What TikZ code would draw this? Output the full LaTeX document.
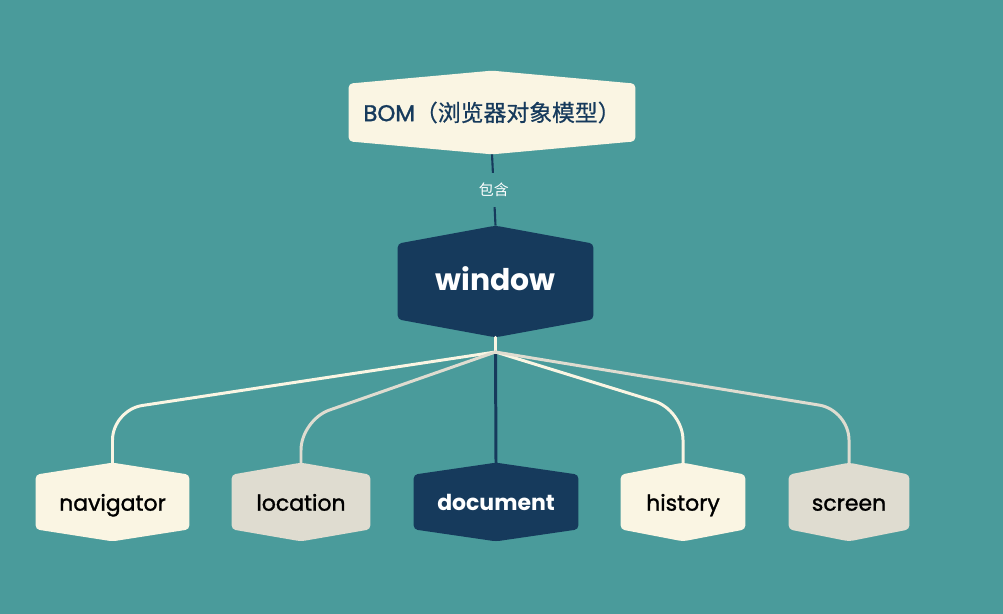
\documentclass[tikz,border=0pt]{standalone}
\usepackage{fontspec}
\setmainfont{Poppins}
\newfontfamily\medfont{Poppins}[FakeBold=1.3]
\newfontfamily\cjk{Noto Sans CJK SC}
\newfontfamily\cjkmed{Noto Sans CJK SC}[FakeBold=0.6]
\usetikzlibrary{backgrounds}

\definecolor{bgteal}{HTML}{4A9B9B}
\definecolor{navy}{HTML}{163A5C}
\definecolor{cream}{HTML}{FAF5E3}
\definecolor{sand}{HTML}{DFDCD0}

\begin{document}
\begin{tikzpicture}[
        x=0.02cm, y=-0.02cm,
        every node/.style={font=\medfont\fontsize{12.5}{15}\selectfont},
        hexnode/.style={rectangle, inner sep=0pt, minimum height=1.56cm, text=black},
        lowcase/.style={text height=2.0ex, text depth=0.2ex},
        link/.style={line width=1.7pt, line cap=round},
        tag/.style={fill=bgteal, text=white, inner xsep=2pt, inner ysep=0.2cm, font=\cjk\fontsize{8.5}{10}\selectfont}
    ]

    \useasboundingbox (0,0) rectangle (1003,614);

    \node[hexnode, minimum width=5.72cm, minimum height=1.66cm, text=navy, font=\medfont\fontsize{13}{15}\selectfont] (bom) at (492,112.5) {BOM{\cjkmed （浏览器对象模型）}};
    \node[hexnode, lowcase, minimum width=3.9cm, minimum height=2.22cm, text=white, font=\fontsize{17}{20}\selectfont\bfseries] (win) at (495.5,281.5) {window};

    \node[hexnode, lowcase, minimum width=3.06cm] (nav) at (112.5,502) {navigator};
    \node[hexnode, lowcase, minimum width=2.76cm] (loc) at (301,502) {location};
    \node[hexnode, lowcase, minimum width=3.28cm, text=white, font=\fontsize{12.5}{15}\selectfont\bfseries] (doc) at (496,502) {document};
    \node[hexnode, lowcase, minimum width=2.48cm] (his) at (683,502) {history};
    \node[hexnode, lowcase, minimum width=2.40cm] (scr) at (849,502) {screen};

    \coordinate (fork) at (495.5,352);

    % hexagon bodies behind the texts
    \begin{scope}[on background layer]
        \fill[bgteal] (0,0) rectangle (1003,614);
        \foreach \n/\c/\p in {bom/cream/0.26cm, win/navy/0.36cm, nav/cream/0.24cm, loc/sand/0.24cm,
                              doc/navy/0.24cm, his/cream/0.24cm, scr/sand/0.24cm}
            \fill[\c, rounded corners=2.2pt] (\n.north) -- ([yshift=-\p]\n.north east) -- ([yshift=\p]\n.south east)
                -- (\n.south) -- ([yshift=\p]\n.south west) -- ([yshift=-\p]\n.north west) -- cycle;
    \end{scope}

    \draw[navy, line width=1.2pt] (bom.south) -- node[tag] {包含} (win.north);

    \draw[link, cream] (win.south) -- (fork);
    \draw[link, navy] (fork) -- (doc.north);
    \foreach \n/\c/\y in {nav/cream/410, loc/sand/420, his/cream/410, scr/sand/410}
        \draw[link, \c, rounded corners=0.6cm] (fork) -- (\n.north |- 0,\y) -- (\n.north);

\end{tikzpicture}
\end{document}
